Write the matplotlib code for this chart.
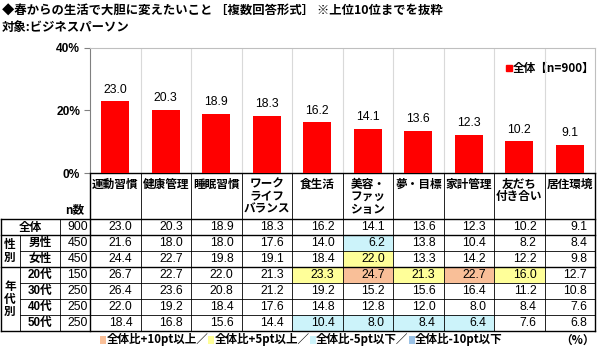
import matplotlib
matplotlib.use("Agg")
import matplotlib.pyplot as plt
from matplotlib.patches import Rectangle

plt.rcParams['font.family'] = ['Noto Sans CJK JP', 'DejaVu Sans']

# ---- data ----
categories = ['運動習慣', '健康管理', '睡眠習慣', 'ワーク\nライフ\nバランス', '食生活',
              '美容・\nファッ\nション', '夢・目標', '家計管理', '友だち\n付き合い', '居住環境']
overall = [23.0, 20.3, 18.9, 18.3, 16.2, 14.1, 13.6, 12.3, 10.2, 9.1]
male = [21.6, 18.0, 18.0, 17.6, 14.0, 6.2, 13.8, 10.4, 8.2, 8.4]
female = [24.4, 22.7, 19.8, 19.1, 18.4, 22.0, 13.3, 14.2, 12.2, 9.8]
age20 = [26.7, 22.7, 22.0, 21.3, 23.3, 24.7, 21.3, 22.7, 16.0, 12.7]
age30 = [26.4, 23.6, 20.8, 21.2, 19.2, 15.2, 15.6, 16.4, 11.2, 10.8]
age40 = [22.0, 19.2, 18.4, 17.6, 14.8, 12.8, 12.0, 8.0, 8.4, 7.6]
age50 = [18.4, 16.8, 15.6, 14.4, 10.4, 8.0, 8.4, 6.4, 7.6, 6.8]
row_labels = ['全体', '男性', '女性', '20代', '30代', '40代', '50代']
row_n = [900, 450, 450, 150, 250, 250, 250]
yticks = [0, 20, 40]
ytick_labels = ['0%', '20%', '40%']
series_name = '全体【n=900】'
title = '◆春からの生活で大胆に変えたいこと ［複数回答形式］ ※上位10位までを抜粋'
subtitle = '対象:ビジネスパーソン'
legend_items = ['全体比+10pt以上／', '全体比+5pt以上／', '全体比-5pt以下／', '全体比-10pt以下']

table_rows = [overall, male, female, age20, age30, age40, age50]

# ---- layout (pixels) ----
W, H = 600, 347
plot_left, plot_right = 90, 595
plot_top, plot_bottom = 47.7, 173.3
ncol = len(categories)
colw = (plot_right - plot_left) / ncol
row_top = 219
row_h = 16

RED = '#FF0000'
PEACH = '#F9BF98'
YELLOW = '#FFFF99'
CYAN = '#CCF3FA'
BLUE = '#9BC2E6'
NUMFONT = ['Liberation Sans', 'Noto Sans CJK JP']
FS = 8.4

fig = plt.figure(figsize=(W / 100, H / 100), dpi=100)
fig.patch.set_facecolor('white')

# full-figure overlay in pixel coordinates for the table and texts
tab = fig.add_axes([0, 0, 1, 1], zorder=1)
tab.set_xlim(0, W)
tab.set_ylim(H, 0)
tab.axis('off')
tab.patch.set_alpha(0)

# ---- bar chart ----
ax = fig.add_axes([plot_left / W, (H - plot_bottom) / H,
                   (plot_right - plot_left) / W, (plot_bottom - plot_top) / H], zorder=2)
ax.patch.set_alpha(0)
xs = list(range(ncol))
ax.bar(xs, overall, width=0.56, color=RED, zorder=3)
ax.set_xlim(-0.5, ncol - 0.5)
ax.set_ylim(0, 40)
for i in range(1, ncol):
    ax.axvline(i - 0.5, color='#D9D9D9', lw=0.8, zorder=1)
for x, v in zip(xs, overall):
    ax.annotate(f'{v:.1f}', (x, v), xytext=(0, 4), textcoords='offset points',
                ha='center', va='bottom', fontsize=8.8, family=NUMFONT)
ax.set_yticks(yticks)
ax.set_yticklabels(ytick_labels, fontsize=8.6, fontweight='bold', family=NUMFONT)
ax.set_xticks([])
ax.tick_params(axis='y', length=4, width=0.8, color='#808080', pad=3)
for side in ('top', 'right'):
    ax.spines[side].set_color('#BFBFBF')
    ax.spines[side].set_linewidth(0.8)
ax.spines['left'].set_color('#808080')
ax.spines['left'].set_linewidth(0.8)
ax.spines['bottom'].set_color('black')
ax.spines['bottom'].set_linewidth(1.0)

# series legend
tab.add_patch(Rectangle((506, 64.5), 5.5, 6.5, color=RED, zorder=3))
tab.text(513, 68, series_name, fontsize=FS, fontweight='bold', va='center', ha='left')

# titles
tab.text(2, 11, title, fontsize=8.9, fontweight='bold', va='center', ha='left')
tab.text(2, 27, subtitle, fontsize=8.9, fontweight='bold', va='center', ha='left')

# ---- table ----
def col_x(i):
    return plot_left + colw * i

# highlighted cells, relative to the overall row
for r in range(1, len(table_rows)):
    for c in range(ncol):
        d = table_rows[r][c] - overall[c]
        fill = None
        if d >= 10:
            fill = PEACH
        elif d >= 5:
            fill = YELLOW
        elif d <= -10:
            fill = BLUE
        elif d <= -5:
            fill = CYAN
        if fill:
            tab.add_patch(Rectangle((col_x(c), row_top + r * row_h), colw, row_h,
                                    facecolor=fill, edgecolor='none', zorder=1))

# category header texts
for c, name in enumerate(categories):
    tab.text(col_x(c) + colw / 2, 177.5, name, fontsize=FS, fontweight='bold',
             ha='center', va='top', multialignment='center', linespacing=0.95)
tab.text(75, 216, 'n数', fontsize=FS, fontweight='bold', ha='center', va='bottom')

# row labels, n and values
for r, (lab, n, vals) in enumerate(zip(row_labels, row_n, table_rows)):
    yc = row_top + r * row_h + row_h / 2
    if r == 0:
        tab.text(30, yc, lab, fontsize=FS, fontweight='bold', ha='center', va='center')
    else:
        tab.text(40, yc, lab, fontsize=FS, fontweight='bold', ha='center', va='center',
                 family=NUMFONT)
    tab.text(88, yc, str(n), fontsize=8.8, ha='right', va='center', family=NUMFONT)
    for c, v in enumerate(vals):
        tab.text(col_x(c + 1) - 8, yc, f'{v:.1f}', fontsize=8.8, ha='right',
                 va='center', family=NUMFONT)

tab.text(10, row_top + row_h * 2, '性\n別', fontsize=FS, fontweight='bold',
         ha='center', va='center', linespacing=0.95)
tab.text(10, row_top + row_h * 5, '年\n代\n別', fontsize=FS, fontweight='bold',
         ha='center', va='center', linespacing=0.95)

# grid lines
K = 'black'
major, minor = 1.0, 0.6
ybot = row_top + row_h * len(table_rows)
for c in range(ncol + 1):
    lw = major if c in (0, ncol) else minor
    tab.plot([col_x(c), col_x(c)], [plot_bottom, ybot], color=K, lw=lw, zorder=4)
tab.plot([1, 1], [row_top, ybot], color=K, lw=major, zorder=4)
tab.plot([20, 20], [row_top + row_h, ybot], color=K, lw=minor, zorder=4)
tab.plot([60, 60], [row_top, ybot], color=K, lw=minor, zorder=4)
for r in range(len(table_rows) + 1):
    y = row_top + r * row_h
    if r in (0, 1, 3, len(table_rows)):
        tab.plot([1, plot_right], [y, y], color=K, lw=major, zorder=4)
    else:
        tab.plot([20, plot_right], [y, y], color=K, lw=minor, zorder=4)

# colour legend under the table, laid out left to right
leg_y = 340
leg_colors = [PEACH, YELLOW, CYAN, BLUE]
renderer = fig.canvas.get_renderer()
x = 100
for col, txt in zip(leg_colors, legend_items):
    tab.add_patch(Rectangle((x, leg_y - 4), 6, 8, facecolor=col, edgecolor='none', zorder=3))
    t = tab.text(x + 6.5, leg_y, txt, fontsize=8.3, fontweight='bold', ha='left', va='center')
    bb = t.get_window_extent(renderer)
    x = x + 6.5 + bb.width
tab.text(595, leg_y, '（%）', fontsize=FS, fontweight='bold', ha='right', va='center')

fig.savefig('out.png', dpi=100, facecolor='white')
